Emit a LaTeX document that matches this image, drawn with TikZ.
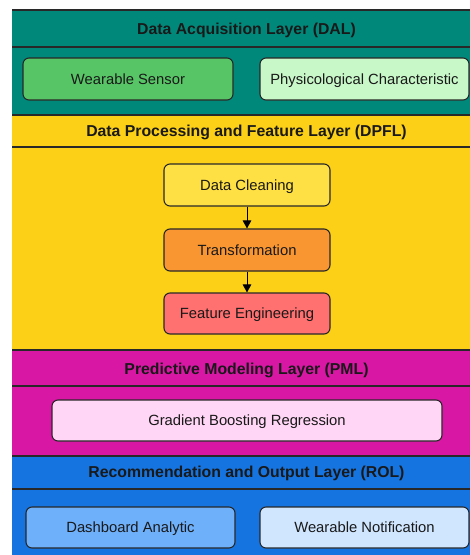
\documentclass[tikz,border=0pt]{standalone}
\usepackage{fontspec}
\setmainfont{Liberation Sans}
\usetikzlibrary{arrows.meta}

\definecolor{dalbg}{RGB}{0,137,123}
\definecolor{dpflbg}{RGB}{252,208,22}
\definecolor{pmlbg}{RGB}{216,24,164}
\definecolor{rolbg}{RGB}{22,116,224}
\definecolor{sensorfill}{RGB}{87,197,102}
\definecolor{physfill}{RGB}{200,247,200}
\definecolor{cleanfill}{RGB}{255,224,68}
\definecolor{transfill}{RGB}{250,150,50}
\definecolor{featfill}{RGB}{255,112,112}
\definecolor{gbrfill}{RGB}{255,214,245}
\definecolor{dashfill}{RGB}{110,176,250}
\definecolor{notiffill}{RGB}{208,230,255}
\definecolor{edgedark}{RGB}{40,40,40}
\definecolor{inkdark}{RGB}{25,25,25}

\tikzset{
  layer/.style={draw=edgedark, line width=1.1pt},
  layertitle/.style={font=\fontsize{15.8}{18}\selectfont\bfseries, text=inkdark, anchor=center,
    text height=11.3pt, text depth=0pt, inner sep=0pt},
  procbox/.style={draw=edgedark, line width=1.1pt, rounded corners=6pt, font=\fontsize{14.8}{17}\selectfont,
    text=inkdark, inner sep=0pt, text height=10.6pt, text depth=0pt},
  flow/.style={-{Triangle[length=8pt,width=8.5pt]}, line width=1pt, draw=black}
}

\begin{document}
\begin{tikzpicture}[x=1pt, y=-1pt]
  \useasboundingbox (0,0) rectangle (470,555);

  % layer bands
  \fill[dalbg] (12,10) rectangle (474,115);
  \fill[dpflbg] (12,115) rectangle (474,350);
  \fill[pmlbg] (12,350) rectangle (474,456);
  \fill[rolbg] (12,456) rectangle (474,559);

  % band top edge and header separators
  \draw[layer] (12,10) -- (474,10);
  \draw[layer] (12,47) -- (474,47);
  \draw[layer] (12,115) -- (474,115);
  \draw[layer] (12,147) -- (474,147);
  \draw[layer] (12,350) -- (474,350);
  \draw[layer] (12,386) -- (474,386);
  \draw[layer] (12,456) -- (474,456);
  \draw[layer] (12,489) -- (474,489);

  % layer titles
  \node[layertitle] (dal) at (246.5,29) {Data Acquisition Layer (DAL)};
  \node[layertitle] (dpfl) at (246.5,130.5) {Data Processing and Feature Layer (DPFL)};
  \node[layertitle] (pml) at (246.5,369) {Predictive Modeling Layer (PML)};
  \node[layertitle] (rol) at (246.5,471.5) {Recommendation and Output Layer (ROL)};

  % data acquisition
  \node[procbox, fill=sensorfill, minimum width=210pt, minimum height=42pt] (sensor) at (128,79) {Wearable Sensor};
  \node[procbox, fill=physfill, minimum width=209pt, minimum height=42pt] (phys) at (364.5,79) {Physicological Characteristic};

  % data processing chain
  \node[procbox, fill=cleanfill, minimum width=166pt, minimum height=42pt] (clean) at (247,185) {Data Cleaning};
  \node[procbox, fill=transfill, minimum width=166pt, minimum height=42pt] (trans) at (247,250) {Transformation};
  \node[procbox, fill=featfill, minimum width=166pt, minimum height=41pt] (feat) at (247,313.5) {Feature Engineering};
  \draw[flow] (clean) -- (trans);
  \draw[flow] (trans) -- (feat);

  % predictive modeling
  \node[procbox, fill=gbrfill, minimum width=390pt, minimum height=41pt] (gbr) at (247,420.5) {Gradient Boosting Regression};

  % recommendation and output
  \node[procbox, fill=dashfill, minimum width=209pt, minimum height=41pt] (dash) at (130.5,527.5) {Dashboard Analytic};
  \node[procbox, fill=notiffill, minimum width=209pt, minimum height=41pt] (notif) at (364.5,527.5) {Wearable Notification};
\end{tikzpicture}
\end{document}
